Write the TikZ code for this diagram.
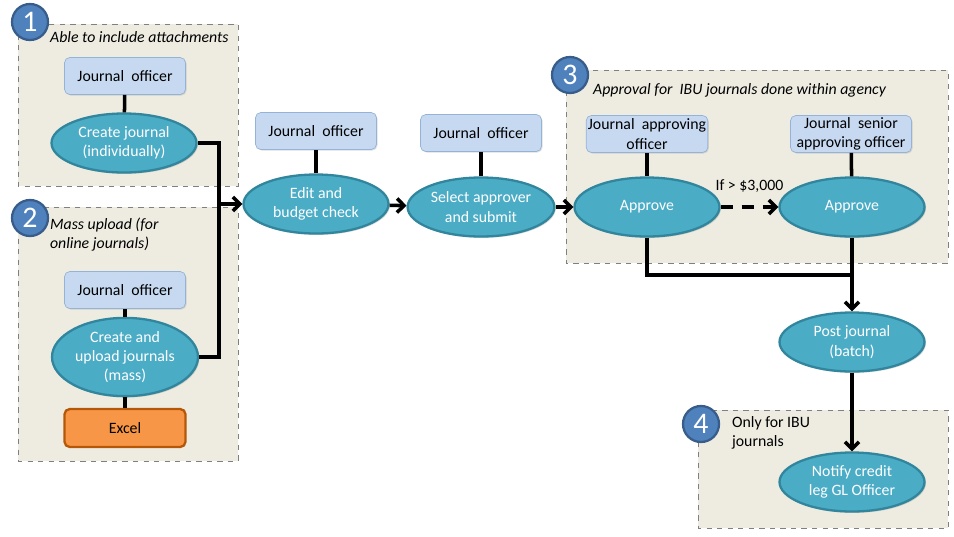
\documentclass[tikz,border=0pt]{standalone}
\usepackage{fontspec}
\setmainfont{Carlito}
\usepackage{tikz}
\usetikzlibrary{arrows.meta,positioning,shapes.geometric,shadows}

\definecolor{panelfill}{HTML}{EEECE1}
\definecolor{rolefill}{HTML}{C6D9F1}
\definecolor{roleline}{HTML}{95B3D7}
\definecolor{taskfill}{HTML}{4BACC6}
\definecolor{taskline}{HTML}{31859C}
\definecolor{excelfill}{HTML}{F79646}
\definecolor{excelline}{HTML}{B65708}
\definecolor{badgefill}{HTML}{4F81BD}
\definecolor{badgeline}{HTML}{385D8A}

\begin{document}
\begin{tikzpicture}[
  x=0.2mm, y=-0.2mm,
  every node/.style={font=\fontsize{9}{11}\selectfont, align=center, inner sep=1pt},
  panel/.style={draw=gray, dashed, fill=panelfill, line width=0.5pt},
  role/.style={rectangle, rounded corners=3pt, draw=roleline, fill=rolefill, minimum width=24.2mm, minimum height=7.4mm, drop shadow={opacity=0.25, shadow xshift=0.6pt, shadow yshift=-0.6pt}},
  task/.style={ellipse, draw=taskline, line width=1.3pt, fill=taskfill, text=white, minimum width=29mm, minimum height=11.8mm, drop shadow={opacity=0.3, shadow xshift=0.8pt, shadow yshift=-0.8pt}},
  tool/.style={rectangle, rounded corners=3pt, draw=excelline, line width=1.3pt, fill=excelfill, minimum width=24.2mm, minimum height=7.6mm},
  badge/.style={circle, draw=badgeline, line width=1.3pt, fill=badgefill, text=white, minimum size=7.2mm, font=\fontsize{17}{17}\selectfont},
  title/.style={anchor=north west, align=left, font=\fontsize{9}{11}\selectfont\itshape},
  link/.style={line width=2pt},
  flow/.style={link, -{Straight Barb[length=4pt,width=8pt,line width=2pt]}}
]
\useasboundingbox (0,0) rectangle (954,536);

% panels
\draw[panel] (18,24) rectangle (238,186);
\draw[panel] (18,207) rectangle (238,461);
\draw[panel] (566,70) rectangle (948,263);
\draw[panel] (698,410) rectangle (948,528);

\node[badge] (b1) at (30,22) {1};
\node[badge] (b2) at (30,218) {2};
\node[badge] (b3) at (570,75) {3};
\node[badge] (b4) at (701,424) {4};

\node[title] (t1) at (48,29) {Able to include attachments};
\node[title] (t2) at (48,216) {Mass upload (for\\online journals)};
\node[title] (t3) at (591,81) {Approval for\ \ IBU journals done within agency};
\node[title, font=\fontsize{9}{11}\selectfont] (t4) at (730,414) {Only for IBU\\journals};

% single journal
\node[role] (jo1) at (125,76) {Journal\ \ officer};
\node[task] (cj) at (124,143) {Create journal\\(individually)};

% mass upload
\node[role] (jo2) at (125,290) {Journal\ \ officer};
\node[task, minimum height=12.2mm] (cu) at (125,357) {Create and\\upload journals\\(mass)};
\node[tool] (xl) at (125,428) {Excel};

% main line
\node[role] (jo3) at (316,131) {Journal\ \ officer};
\node[task] (edit) at (316,204) {Edit and\\budget check};
\node[role] (jo4) at (481,133) {Journal\ \ officer};
\node[task] (sel) at (481,207) {Select approver\\and submit};

% approvals
\node[role] (jao) at (647,134) {Journal\ \ approving\\officer};
\node[task] (ap1) at (647,207) {Approve};
\node[role] (jsao) at (851,134) {Journal\ \ senior\\approving officer};
\node[task] (ap2) at (852,207) {Approve};

\node[task] (post) at (852,342) {Post journal\\(batch)};
\node[task] (note) at (852,482) {Notify credit\\leg GL Officer};

\coordinate (join) at (219,204);
\coordinate (merge) at (852,275);

% connectors
\draw[link] (jo1) -- (cj);
\draw[link] (jo2) -- (cu);
\draw[link] (cu) -- (xl);
\draw[link] (jo3) -- (edit);
\draw[link] (jo4) -- (sel);
\draw[link] (jao) -- (ap1);
\draw[link] (jsao) -- (ap2);

\draw[link] (cj.east) -| (join);
\draw[link] (cu.east) -| (join);
\draw[flow] (join) -- (edit.west);
\draw[flow] (edit) -- (sel);
\draw[flow] (sel) -- (ap1);
\draw[flow, dash pattern=on 7pt off 5pt] (ap1) -- node[above=6pt, font=\fontsize{9}{11}\selectfont] (cond) {If > \$3,000} (ap2);
\draw[link] (ap1.south) |- (merge);
\draw[flow] (ap2.south) -- (post.north);
\draw[flow] (post) -- (note);
\end{tikzpicture}
\end{document}
